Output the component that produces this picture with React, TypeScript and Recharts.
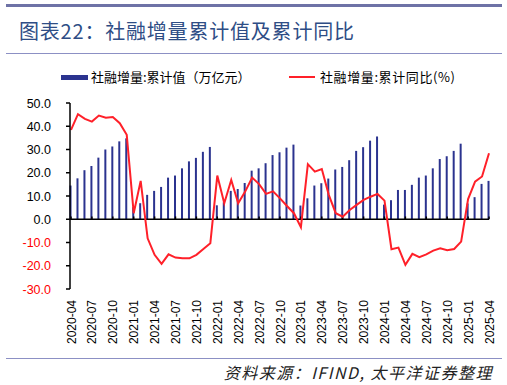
import React from "react";
import { ComposedChart, Bar, Line, XAxis, YAxis, ReferenceLine } from "recharts";

const months = [
  "2020-04","2020-05","2020-06","2020-07","2020-08","2020-09","2020-10","2020-11","2020-12",
  "2021-01","2021-02","2021-03","2021-04","2021-05","2021-06","2021-07","2021-08","2021-09","2021-10","2021-11","2021-12",
  "2022-01","2022-02","2022-03","2022-04","2022-05","2022-06","2022-07","2022-08","2022-09","2022-10","2022-11","2022-12",
  "2023-01","2023-02","2023-03","2023-04","2023-05","2023-06","2023-07","2023-08","2023-09","2023-10","2023-11","2023-12",
  "2024-01","2024-02","2024-03","2024-04","2024-05","2024-06","2024-07","2024-08","2024-09","2024-10","2024-11","2024-12",
  "2025-01","2025-02","2025-03","2025-04",
];

const cumulativeValue = [
  14.5, 17.6, 21.1, 22.9, 26.5, 30.0, 31.3, 33.5, 34.8,
  5.2, 6.9, 10.5, 12.2, 13.9, 17.9, 18.8, 21.9, 24.9, 26.4, 29.0, 31.1,
  6.0, 7.3, 12.2, 13.0, 15.6, 20.9, 21.9, 24.1, 27.6, 28.8, 30.8, 32.1,
  5.9, 9.0, 14.5, 15.5, 17.5, 21.4, 22.5, 25.4, 29.4, 31.0, 33.8, 35.6,
  6.3, 8.2, 12.6, 12.6, 14.8, 17.9, 18.8, 21.9, 25.9, 27.1, 29.4, 32.5,
  6.8, 9.5, 15.2, 16.5,
];

const cumulativeYoY = [
  38.4, 45.2, 43.2, 42.0, 44.6, 43.7, 44.0, 41.3, 36.3,
  2.6, 16.5, -8.2, -15.3, -19.2, -15.1, -16.5, -16.8, -16.8, -15.3, -12.8, -10.3,
  18.8, 6.9, 16.9, 6.9, 11.9, 17.9, 15.1, 10.9, 12.0, 9.0, 5.7, 2.6,
  -3.4, 23.7, 20.5, 21.6, 10.5, 2.6, 1.1, 4.0, 6.2, 8.3, 9.7, 10.9,
  8.0, -12.9, -12.2, -19.6, -14.9, -16.3, -15.1, -13.5, -12.5, -13.3, -12.8, -9.6,
  8.7, 16.2, 18.4, 28.4,
];

const xTickLabels = [
  "2020-04","2020-07","2020-10","2021-01","2021-04","2021-07","2021-10",
  "2022-01","2022-04","2022-07","2022-10","2023-01","2023-04","2023-07","2023-10",
  "2024-01","2024-04","2024-07","2024-10","2025-01","2025-04",
];

const yTicks = [-30, -20, -10, 0, 10, 20, 30, 40, 50];

const seriesNames = ["社融增量:累计值（万亿元）", "社融增量:累计同比(%)"];

const data = months.map((m, i) => ({
  idx: i,
  month: m,
  value: cumulativeValue[i],
  yoy: cumulativeYoY[i],
}));

const xTickIdx = xTickLabels.map((l) => months.indexOf(l));

const BAR_COLOR = "#2B338F";
const LINE_COLOR = "#FF2029";
const CJK = '"Noto Sans CJK SC", "Noto Sans", sans-serif';
const LATIN = '"Liberation Sans", Arial, sans-serif';

const YTick = (props: any) => {
  const { x, y, payload } = props;
  const v = payload.value as number;
  return (
    <text x={x} y={y} dy={4.5} textAnchor="end" fontSize={12.5} fontFamily={LATIN}
      fill={v < 0 ? "#FF0000" : "#000"}>
      {v.toFixed(1)}
    </text>
  );
};

const XTick = (props: any) => {
  const { x, y, payload } = props;
  const label = months[payload.value] ?? "";
  const ty = y + 11;
  return (
    <text x={x} y={ty} dy={4.5} textAnchor="end" fontSize={12} fontFamily={LATIN}
      fill="#000" transform={`rotate(-90, ${x}, ${ty})`}>
      {label}
    </text>
  );
};

export default function App() {
  return (
    <div style={{ position: "absolute", left: 0, top: 0, width: 507, height: 385, background: "#fff", overflow: "hidden" }}>
      <div style={{ position: "absolute", left: 6, top: 4, width: 496, height: 3, background: "#6E72A6" }} />
      <div style={{ position: "absolute", left: 19, top: 20, fontFamily: CJK, fontSize: 20, lineHeight: "22px", color: "#2E4D85", letterSpacing: 0.8, whiteSpace: "nowrap" }}>
        图表22：社融增量累计值及累计同比
      </div>
      <div style={{ position: "absolute", left: 6, top: 53, width: 496, height: 1, background: "#8C90C4" }} />

      <div style={{ position: "absolute", left: 61, top: 75, width: 27, height: 5, background: BAR_COLOR }} />
      <div style={{ position: "absolute", left: 91, top: 69, fontFamily: CJK, fontSize: 13, lineHeight: "16px", color: "#000", whiteSpace: "nowrap" }}>
        {seriesNames[0]}
      </div>
      <div style={{ position: "absolute", left: 289, top: 76, width: 26, height: 2, background: LINE_COLOR }} />
      <div style={{ position: "absolute", left: 320, top: 69, fontFamily: CJK, fontSize: 13, lineHeight: "16px", color: "#000", whiteSpace: "nowrap", letterSpacing: 0.6 }}>
        {seriesNames[1]}
      </div>

      <div style={{ position: "absolute", left: 0, top: 0 }}>
        <ComposedChart width={507} height={385} data={data}
          margin={{ top: 103, right: 18, bottom: 36, left: 0 }}>
          <XAxis dataKey="idx" type="number" domain={[0, 60]} ticks={xTickIdx}
            interval={0} axisLine={false} tickLine={false} tickSize={0} tickMargin={0}
            padding={{ left: 1, right: 0 }}
            height={60} tick={<XTick />} />
          <YAxis type="number" domain={[-30, 50]} ticks={yTicks} width={70}
            axisLine={{ stroke: "#000", strokeWidth: 1.5 }}
            tickLine={{ stroke: "#000", strokeWidth: 1.5 }} tickSize={4} tickMargin={15}
            tick={<YTick />} interval={0} />
          <Bar dataKey="value" fill={BAR_COLOR} barSize={2} isAnimationActive={false} />
          <ReferenceLine y={0} stroke="#000" strokeWidth={1.5} />
          {xTickIdx.map((i) => (
            <ReferenceLine key={i} segment={[{ x: i, y: 0 }, { x: i, y: 1.2 }]} stroke="#000" strokeWidth={1.5} />
          ))}
          <Line dataKey="yoy" type="linear" stroke={LINE_COLOR} strokeWidth={2} dot={false}
            isAnimationActive={false} />
        </ComposedChart>
      </div>

      <div style={{ position: "absolute", left: 6, top: 358, width: 496, height: 1, background: "#8C90C4" }} />
      <div style={{ position: "absolute", right: 14, top: 362, fontFamily: CJK, fontSize: 16, lineHeight: "20px", fontStyle: "italic", color: "#222", whiteSpace: "nowrap", letterSpacing: 1.5 }}>
        资料来源：IFIND, 太平洋证券整理
      </div>
    </div>
  );
}
